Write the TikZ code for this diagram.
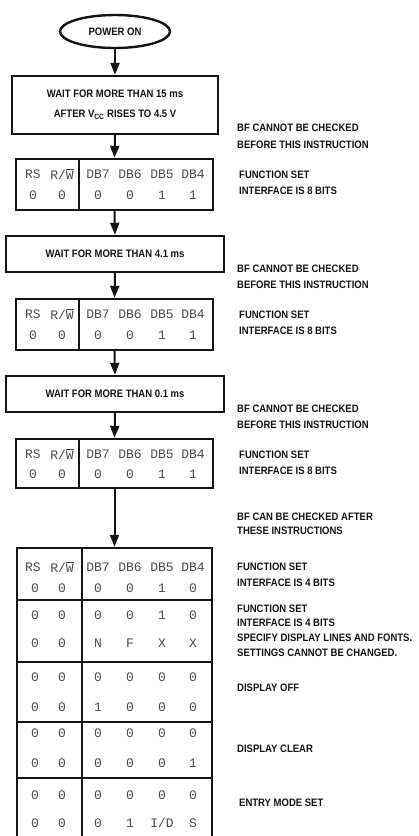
\documentclass[tikz,border=0pt]{standalone}
\usepackage{fontspec}
\setmainfont{Liberation Sans}
\newfontfamily\notefont[FakeStretch=0.88]{Liberation Sans}
\newfontfamily\bitfont{Liberation Mono}
\definecolor{inkblack}{RGB}{20,20,20}
\definecolor{bitgray}{RGB}{75,75,75}
\usetikzlibrary{arrows.meta, shapes.geometric}
\newcommand{\rwbar}{R/$\overline{\hbox{W}}$}
\tikzset{
  stepbox/.style={rectangle, draw=inkblack, line width=2.4pt, fill=white,
    text=inkblack, font=\notefont\bfseries\fontsize{10.8}{13}\selectfont,
    align=center, inner sep=0pt},
  bitframe/.style={rectangle, draw=inkblack, line width=2.4pt, inner sep=0pt},
  flowarrow/.style={-{Triangle[width=9pt,length=12pt]}, line width=2pt, color=inkblack},
  note/.style={anchor=west, inner sep=0pt, text=inkblack,
    font=\notefont\bfseries\fontsize{10.8}{13}\selectfont},
}

\begin{document}
\begin{tikzpicture}[x=1pt, y=-1pt,
  powerbox/.style={ellipse, draw=inkblack, line width=2.4pt, fill=white,
    minimum width=110pt, minimum height=33pt, inner sep=0pt, text=inkblack,
    font=\notefont\bfseries\fontsize{10.8}{13}\selectfont},
  bit/.style={inner sep=0pt, text=bitgray, font=\bitfont\fontsize{13}{14}\selectfont},
  divider/.style={line width=1.8pt, color=inkblack},
]
\useasboundingbox (0,0) rectangle (419,836);

% flow column
\node[powerbox] (pwr) at (115,31.5) {POWER ON};

\node[stepbox, minimum width=206pt, minimum height=58pt] (wait15) at (115,105)
  {WAIT FOR MORE THAN 15 ms\\[7pt]AFTER V\textsubscript{CC} RISES TO 4.5 V};

\node[bitframe, minimum width=197pt, minimum height=51pt] (tabA) at (114.5,184.5) {};
\draw[divider] (79,158) -- (79,211);

\node[stepbox, minimum width=218pt, minimum height=36pt] (wait41) at (115,254)
  {WAIT FOR MORE THAN 4.1 ms};

\node[bitframe, minimum width=197pt, minimum height=51pt] (tabB) at (114.5,324.5) {};
\draw[divider] (79,298) -- (79,351);

\node[stepbox, minimum width=218pt, minimum height=36pt] (wait01) at (115,394)
  {WAIT FOR MORE THAN 0.1 ms};

\node[bitframe, minimum width=197pt, minimum height=49pt] (tabC) at (114.5,463.5) {};
\draw[divider] (79,438) -- (79,489);

% 4-bit table
\node[bitframe, minimum width=195pt, minimum height=52pt] (grp1) at (114.5,574) {};
\node[bitframe, minimum width=195pt, minimum height=62pt] (grp2) at (114.5,631) {};
\node[bitframe, minimum width=195pt, minimum height=60pt] (grp3) at (114.5,692) {};
\node[bitframe, minimum width=195pt, minimum height=56pt] (grp4) at (114.5,750) {};
\draw[line width=2.4pt, color=inkblack] (17,778) -- (17,836) (212,778) -- (212,836);
\draw[divider] (82,548) -- (82,836);

\draw[flowarrow] (pwr.south) -- (wait15.north);
\draw[flowarrow] (wait15.south) -- (tabA.north);
\draw[flowarrow] (tabA.south) -- (wait41.north);
\draw[flowarrow] (wait41.south) -- (tabB.north);
\draw[flowarrow] (tabB.south) -- (wait01.north);
\draw[flowarrow] (wait01.south) -- (tabC.north);
\draw[flowarrow] (tabC.south) -- (grp1.north);

% bit cells, 8-bit tables
\foreach \x/\v [count=\i] in {33/RS, 62/{\rwbar}, 98/DB7, 130/DB6, 162/DB5, 193/DB4}{
  \node[bit] (tabAh\i) at (\x,174) {\v};
  \node[bit] (tabBh\i) at (\x,314) {\v};
  \node[bit] (tabCh\i) at (\x,454) {\v};
  \node[bit] (grp1h\i) at (\x,567) {\v};
}
\foreach \x/\v [count=\i] in {33/0, 62/0, 98/0, 130/0, 162/1, 193/1}{
  \node[bit] (tabAv\i) at (\x,195) {\v};
  \node[bit] (tabBv\i) at (\x,335) {\v};
  \node[bit] (tabCv\i) at (\x,474) {\v};
}

% bit cells, 4-bit table
\foreach \x/\a/\b/\c/\d/\e/\f/\g/\h/\k [count=\i] in
  {35/0/0/0/0/0/0/0/0/0, 62/0/0/0/0/0/0/0/0/0, 98/0/0/N/0/1/0/0/0/0,
   130/0/0/F/0/0/0/0/0/1, 162/1/1/X/0/0/0/0/0/{I/D}, 193/0/0/X/0/0/0/1/0/S}{
  \node[bit] (grp1v\i) at (\x,588) {\a};
  \node[bit] (grp2a\i) at (\x,615) {\b};
  \node[bit] (grp2b\i) at (\x,643) {\c};
  \node[bit] (grp3a\i) at (\x,677) {\d};
  \node[bit] (grp3b\i) at (\x,707) {\e};
  \node[bit] (grp4a\i) at (\x,733) {\f};
  \node[bit] (grp4b\i) at (\x,763) {\g};
  \node[bit] (grp5a\i) at (\x,795) {\h};
  \node[bit] (grp5b\i) at (\x,823) {\k};
}

% notes on the right
\node[note] (bf1a) at (237,128) {BF CANNOT BE CHECKED};
\node[note] (bf1b) at (237,145) {BEFORE THIS INSTRUCTION};
\node[note] (fs1a) at (239,175) {FUNCTION SET};
\node[note] (fs1b) at (239,191) {INTERFACE IS 8 BITS};
\node[note] (bf2a) at (237,269) {BF CANNOT BE CHECKED};
\node[note] (bf2b) at (237,285) {BEFORE THIS INSTRUCTION};
\node[note] (fs2a) at (239,315) {FUNCTION SET};
\node[note] (fs2b) at (239,331) {INTERFACE IS 8 BITS};
\node[note] (bf3a) at (237,409) {BF CANNOT BE CHECKED};
\node[note] (bf3b) at (237,425) {BEFORE THIS INSTRUCTION};
\node[note] (fs3a) at (239,455) {FUNCTION SET};
\node[note] (fs3b) at (239,471) {INTERFACE IS 8 BITS};
\node[note] (bfok) at (237,517) {BF CAN BE CHECKED AFTER};
\node[note] (bfokb) at (237,531) {THESE INSTRUCTIONS};
\node[note] (fs4a) at (237,567) {FUNCTION SET};
\node[note] (fs4b) at (237,583) {INTERFACE IS 4 BITS};
\node[note] (fs5a) at (237,609) {FUNCTION SET};
\node[note] (fs5b) at (237,623) {INTERFACE IS 4 BITS};
\node[note] (fs5c) at (237,638) {SPECIFY DISPLAY LINES AND FONTS.};
\node[note] (fs5d) at (237,653) {SETTINGS CANNOT BE CHANGED.};
\node[note] (dspoff) at (237,688) {DISPLAY OFF};
\node[note] (dspclr) at (237,749) {DISPLAY CLEAR};
\node[note] (entry) at (239,803) {ENTRY MODE SET};

\end{tikzpicture}
\end{document}
